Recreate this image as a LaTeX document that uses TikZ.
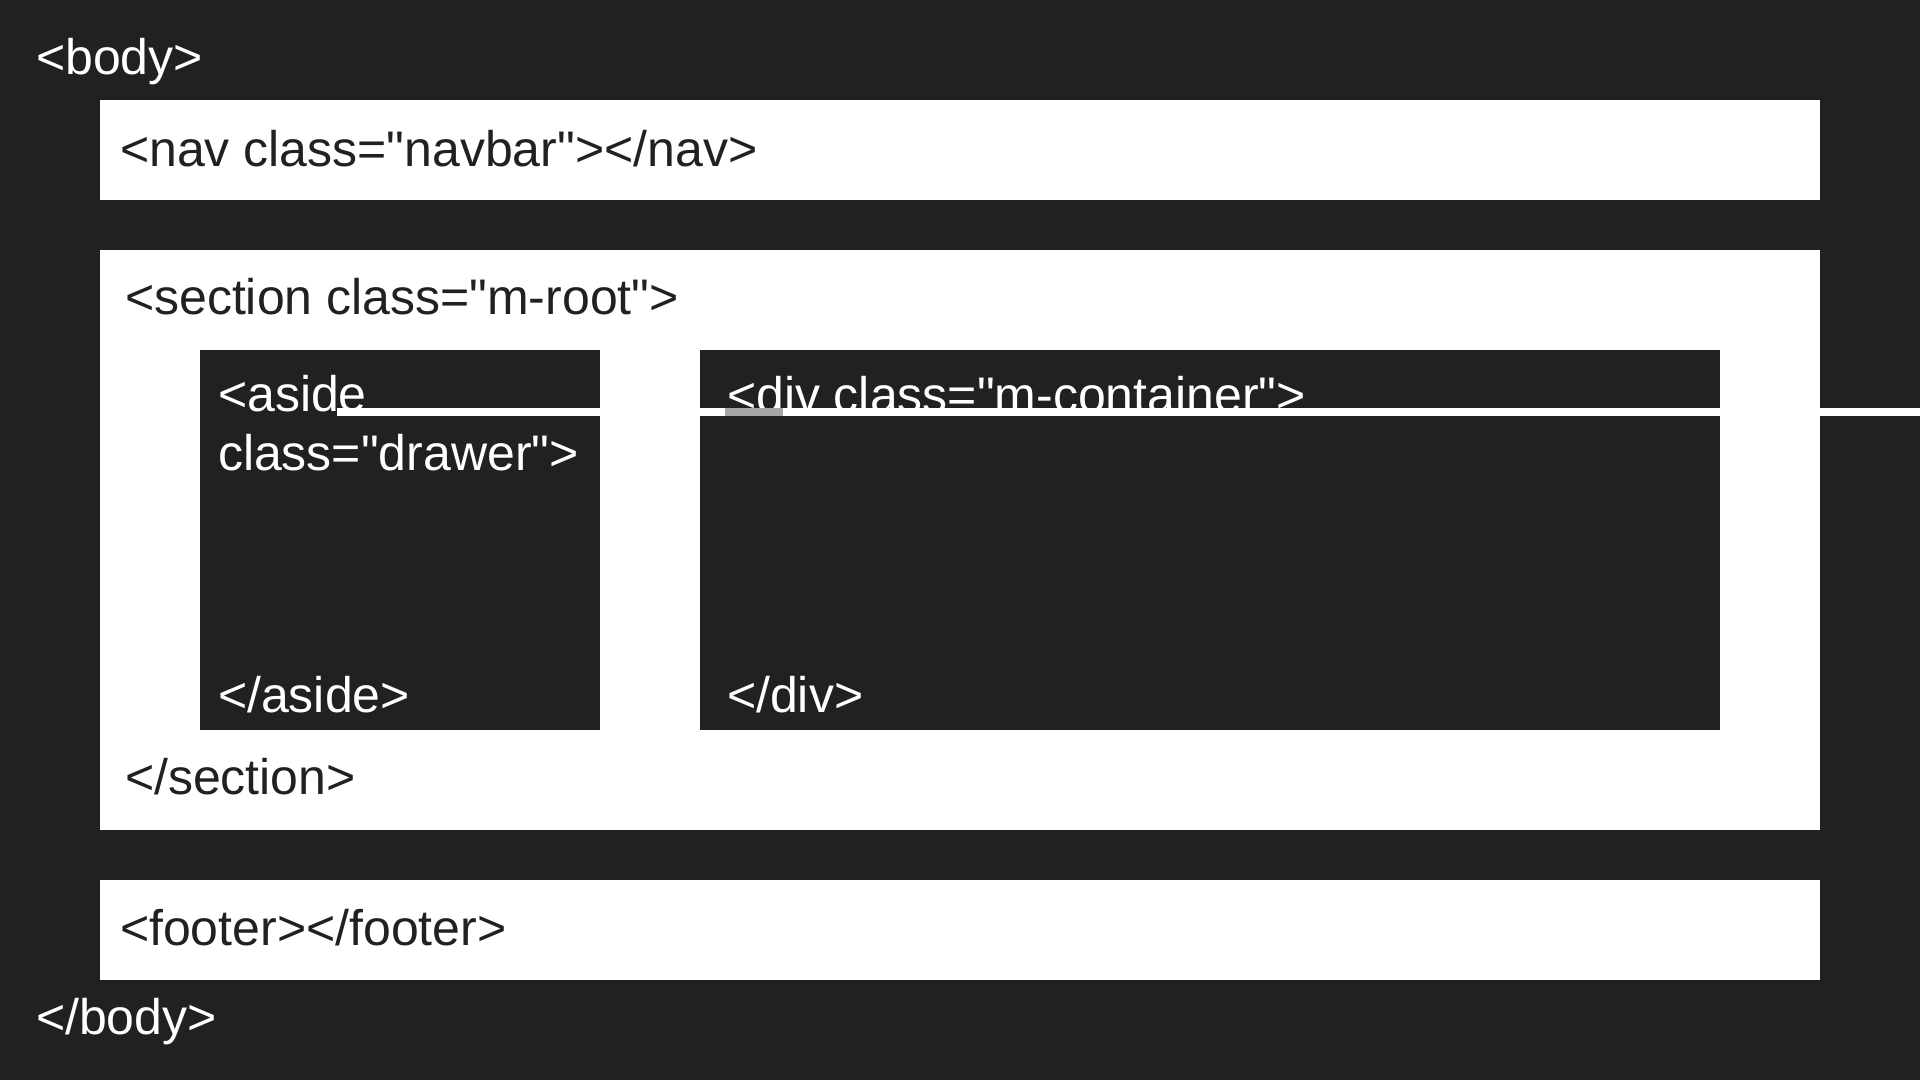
\documentclass[tikz,border=0pt]{standalone}
\usepackage{fontspec}
\setmainfont{Liberation Sans}[Ligatures=TeXOff]
\usetikzlibrary{positioning}
\definecolor{pagebg}{HTML}{212121}

\begin{document}
\begin{tikzpicture}[x=1pt,y=-1pt]
\tikzstyle{lightbox}=[fill=white,draw=none,outer sep=0pt,inner sep=0pt,anchor=north west]
\tikzstyle{darkbox}=[fill=pagebg,draw=none,outer sep=0pt,inner sep=0pt,anchor=north west]
\tikzstyle{tag}=[font=\fontsize{50}{60}\selectfont,inner sep=0pt,outer sep=0pt,anchor=base west]

\fill[pagebg] (0,0) rectangle (1920,1080);
\useasboundingbox (0,0) rectangle (1920,1080);

\node (nav) [lightbox,minimum width=1720pt,minimum height=100pt] at (100,100) {};
\node (section) [lightbox,minimum width=1720pt,minimum height=580pt] at (100,250) {};
\node (footer) [lightbox,minimum width=1720pt,minimum height=100pt] at (100,880) {};

\node (aside) [darkbox,minimum width=400pt,minimum height=380pt,xshift=100pt,yshift=-100pt] at (section.north west) {};
\node (div) [darkbox,minimum width=1020pt,minimum height=380pt,xshift=600pt,yshift=-100pt] at (section.north west) {};

\node (body_open) [tag,text=white] at (36,74) {<body>};
\node (body_close) [tag,text=white] at (36,1034) {</body>};

\node (nav_txt) [tag,text=pagebg,xshift=20pt,yshift=-66pt] at (nav.north west) {<nav class="navbar"></nav>};
\node (footer_txt) [tag,text=pagebg,xshift=20pt,yshift=-65pt] at (footer.north west) {<footer></footer>};

\node (section_open) [tag,text=pagebg,xshift=25pt,yshift=-64pt] at (section.north west) {<section class="m-root">};
\node (section_close) [tag,text=pagebg,xshift=25pt,yshift=36pt] at (section.south west) {</section>};

\node (aside_open) [tag,text=white,xshift=18pt,yshift=-61pt] at (aside.north west) {<aside};
\node (aside_class) [tag,text=white,xshift=18pt,yshift=-120pt] at (aside.north west) {class="drawer">};
\node (aside_close) [tag,text=white,xshift=18pt,yshift=18pt] at (aside.south west) {</aside>};

\node (div_open) [tag,text=white,xshift=27pt,yshift=-62pt] at (div.north west) {<div class="m-container">};
\node (div_close) [tag,text=white,xshift=27pt,yshift=18pt] at (div.south west) {</div>};

% white strip drawn over the opening lines
\fill[white] (337,408) rectangle (1920,416);
\fill[gray!70] (725,408) rectangle (783,416);

\end{tikzpicture}
\end{document}
